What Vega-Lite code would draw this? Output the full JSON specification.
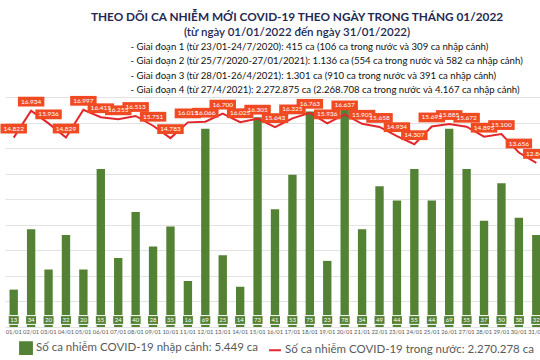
{
  "$schema": "https://vega.github.io/schema/vega-lite/v6.json",
  "background": "white",
  "padding": {"top": 11, "left": 0, "right": 0, "bottom": 0},
  "title": {
    "text": "THEO DÕI CA NHIỄM MỚI COVID-19 THEO NGÀY TRONG THÁNG 01/2022",
    "subtitle": "(từ ngày 01/01/2022 đến ngày 31/01/2022)",
    "anchor": "middle",
    "dx": 22,
    "font": "Lato",
    "fontSize": 11.8,
    "fontWeight": "bold",
    "color": "#1f2a52",
    "subtitleFont": "Lato",
    "subtitleFontSize": 11.5,
    "subtitleColor": "#1f2a52",
    "subtitleFontWeight": 600,
    "subtitlePadding": 4,
    "offset": 3
  },
  "vconcat": [
    {
      "width": 540,
      "height": 230,
      "title": {
        "text": [
          "- Giai đoạn 1 (từ 23/01-24/7/2020): 415 ca (106 ca trong nước và 309 ca nhập cảnh)",
          "- Giai đoạn 2 (từ 25/7/2020-27/01/2021): 1.136 ca (554 ca trong nước và 582 ca nhập cảnh)",
          "- Giai đoạn 3 (từ 28/01-26/4/2021): 1.301 ca (910 ca trong nước và 391 ca nhập cảnh)",
          "- Giai đoạn 4 (từ 27/4/2021): 2.272.875 ca (2.268.708 ca trong nước và 4.167 ca nhập cảnh)"
        ],
        "anchor": "start",
        "align": "left",
        "dx": 130,
        "font": "Lato",
        "fontSize": 9.6,
        "fontWeight": "normal",
        "color": "#111111",
        "lineHeight": 14.5,
        "offset": 1
      },
      "data": {
        "values": [
          {"ngay": "01/01", "nhap_canh": 13, "trong_nuoc": 14822},
          {"ngay": "02/01", "nhap_canh": 34, "trong_nuoc": 16934},
          {"ngay": "03/01", "nhap_canh": 20, "trong_nuoc": 15936},
          {"ngay": "04/01", "nhap_canh": 32, "trong_nuoc": 14829},
          {"ngay": "05/01", "nhap_canh": 20, "trong_nuoc": 16997},
          {"ngay": "06/01", "nhap_canh": 55, "trong_nuoc": 16415},
          {"ngay": "07/01", "nhap_canh": 24, "trong_nuoc": 16255},
          {"ngay": "08/01", "nhap_canh": 40, "trong_nuoc": 16513},
          {"ngay": "09/01", "nhap_canh": 28, "trong_nuoc": 15751},
          {"ngay": "10/01", "nhap_canh": 35, "trong_nuoc": 14783},
          {"ngay": "11/01", "nhap_canh": 16, "trong_nuoc": 16015},
          {"ngay": "12/01", "nhap_canh": 69, "trong_nuoc": 16066},
          {"ngay": "13/01", "nhap_canh": 25, "trong_nuoc": 16700},
          {"ngay": "14/01", "nhap_canh": 14, "trong_nuoc": 16025},
          {"ngay": "15/01", "nhap_canh": 73, "trong_nuoc": 16305},
          {"ngay": "16/01", "nhap_canh": 41, "trong_nuoc": 15643},
          {"ngay": "17/01", "nhap_canh": 53, "trong_nuoc": 16325},
          {"ngay": "18/01", "nhap_canh": 75, "trong_nuoc": 16763},
          {"ngay": "19/01", "nhap_canh": 23, "trong_nuoc": 15936},
          {"ngay": "20/01", "nhap_canh": 78, "trong_nuoc": 16637},
          {"ngay": "21/01", "nhap_canh": 34, "trong_nuoc": 15905},
          {"ngay": "22/01", "nhap_canh": 49, "trong_nuoc": 15658},
          {"ngay": "23/01", "nhap_canh": 44, "trong_nuoc": 14934},
          {"ngay": "24/01", "nhap_canh": 55, "trong_nuoc": 14307},
          {"ngay": "25/01", "nhap_canh": 44, "trong_nuoc": 15695},
          {"ngay": "26/01", "nhap_canh": 69, "trong_nuoc": 15885},
          {"ngay": "27/01", "nhap_canh": 55, "trong_nuoc": 15672},
          {"ngay": "28/01", "nhap_canh": 37, "trong_nuoc": 14895},
          {"ngay": "29/01", "nhap_canh": 50, "trong_nuoc": 15100},
          {"ngay": "30/01", "nhap_canh": 38, "trong_nuoc": 13656},
          {"ngay": "31/01", "nhap_canh": 32, "trong_nuoc": 12845}
        ]
      },
      "encoding": {
        "x": {
          "field": "ngay",
          "type": "ordinal",
          "sort": null,
          "scale": {"paddingInner": 0.52, "paddingOuter": 0.26},
          "axis": {
            "title": null,
            "labelAngle": 0,
            "labelFontSize": 5.8,
            "labelColor": "#595959",
            "labelFont": "Lato",
            "ticks": false,
            "domain": false,
            "labelPadding": 1
          }
        }
      },
      "layer": [
        {
          "mark": {"type": "bar"},
          "encoding": {
            "y": {"field": "nhap_canh", "type": "quantitative", "scale": {"domain": [0, 80]}, "axis": null},
            "color": {
              "datum": "Số ca nhiễm COVID-19 nhập cảnh: 5.449 ca",
              "type": "nominal",
              "scale": {
                "domain": ["Số ca nhiễm COVID-19 nhập cảnh: 5.449 ca", "Số ca nhiễm COVID-19 trong nước: 2.270.278 ca"],
                "range": ["#548235", "#e3262b"]
              },
              "legend": {
                "title": null,
                "orient": "none",
                "legendX": 14,
                "legendY": 244,
                "direction": "horizontal",
                "labelFont": "Lato",
                "labelFontSize": 11.5,
                "labelColor": "#595959",
                "labelLimit": 400,
                "labelOffset": 3,
                "columnPadding": 6,
                "symbolSize": 140,
                "encode": {
                  "symbols": {
                    "update": {
                      "shape": {"signal": "datum.index === 0 ? 'square' : 'stroke'"},
                      "fill": {"signal": "datum.index === 0 ? '#548235' : 'transparent'"},
                      "stroke": {"signal": "datum.index === 0 ? '#548235' : '#e3262b'"},
                      "strokeWidth": {"value": 2},
                      "opacity": {"value": 1}
                    }
                  }
                }
              }
            }
          }
        },
        {
          "mark": {"type": "point", "shape": "M-1,-0.8L1,-0.8L1,0.8L-1,0.8Z", "size": 121, "filled": true, "fill": "#548235", "stroke": "white", "strokeWidth": 1, "opacity": 1, "yOffset": -7},
          "encoding": {
            "y": {"datum": 0, "type": "quantitative", "scale": {"domain": [0, 80]}, "axis": null}
          }
        },
        {
          "mark": {"type": "text", "color": "white", "fontSize": 6, "font": "Lato", "yOffset": -7},
          "encoding": {
            "y": {"datum": 0, "type": "quantitative", "scale": {"domain": [0, 80]}, "axis": null},
            "text": {"field": "nhap_canh", "type": "quantitative"}
          }
        },
        {
          "mark": {"type": "line", "strokeWidth": 2},
          "encoding": {
            "y": {
              "field": "trong_nuoc",
              "type": "quantitative",
              "scale": {"domain": [0, 18000]},
              "axis": {
                "title": null,
                "grid": true,
                "values": [0, 2000, 4000, 6000, 8000, 10000, 12000, 14000, 16000, 18000],
                "labels": false,
                "ticks": false,
                "domain": false,
                "gridColor": "#e3e3e3",
                "gridWidth": 1
              }
            },
            "color": {"datum": "Số ca nhiễm COVID-19 trong nước: 2.270.278 ca", "type": "nominal"}
          }
        },
        {
          "mark": {"type": "point", "shape": "M-1,-0.37L1,-0.37L1,0.37L-1,0.37Z", "size": 700, "filled": true, "fill": "#f04a23", "opacity": 1, "yOffset": -9},
          "encoding": {
            "y": {"field": "trong_nuoc", "type": "quantitative", "scale": {"domain": [0, 18000]}, "axis": null}
          }
        },
        {
          "mark": {"type": "text", "color": "white", "fontSize": 6.5, "font": "Lato", "yOffset": -9},
          "encoding": {
            "y": {"field": "trong_nuoc", "type": "quantitative", "scale": {"domain": [0, 18000]}, "axis": null},
            "text": {"field": "trong_nuoc", "type": "quantitative", "format": ",d"}
          }
        }
      ],
      "resolve": {"scale": {"y": "independent"}}
    }
  ],
  "config": {
    "view": {"stroke": null},
    "font": "Lato",
    "locale": {"number": {"decimal": ",", "thousands": ".", "grouping": [3], "currency": ["", " ₫"]}}
  }
}
